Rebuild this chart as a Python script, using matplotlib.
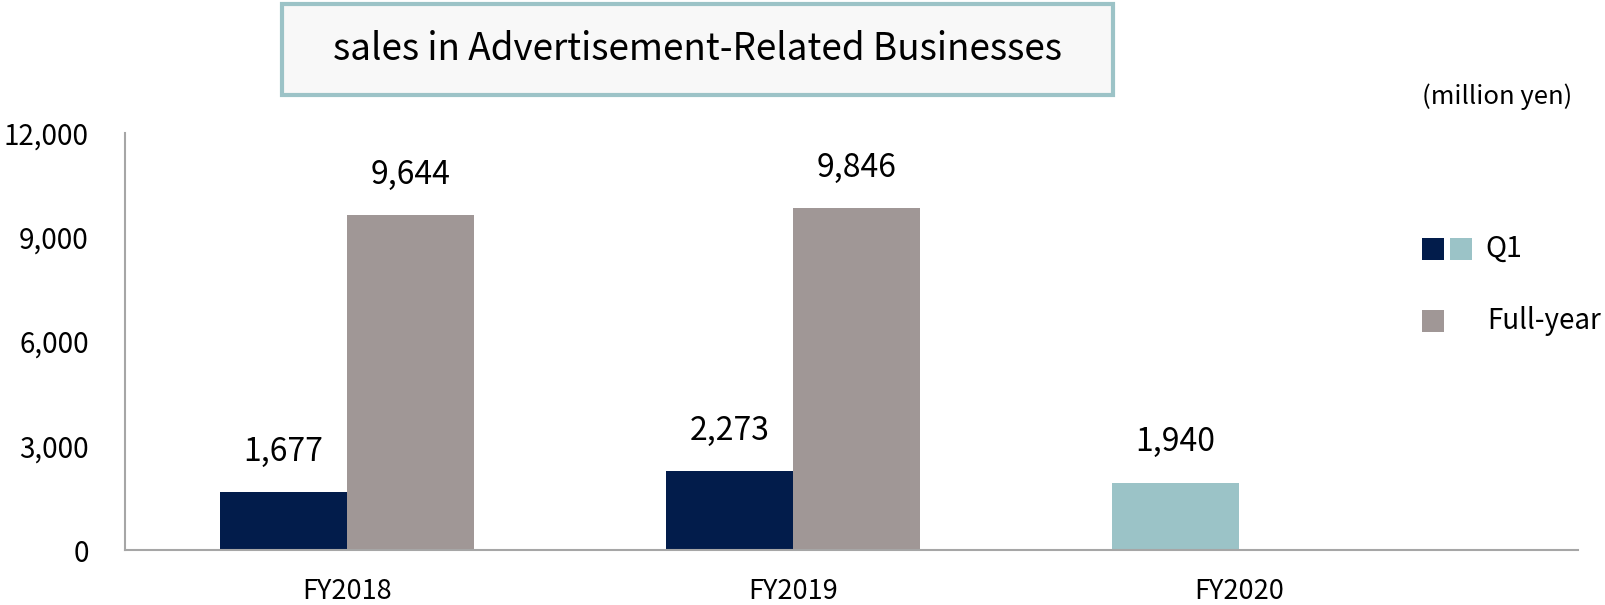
import matplotlib.pyplot as plt
from matplotlib.patches import Rectangle
from matplotlib.ticker import FuncFormatter

plt.rcParams['font.family'] = ['Noto Sans CJK JP', 'DejaVu Sans']

# --------------------------------------------------
# data (million yen)
# --------------------------------------------------
years = ["FY2018", "FY2019", "FY2020"]
q1_sales = [1677, 2273, 1940]
full_year_sales = [9644, 9846, None]
yticks = [0, 3000, 6000, 9000, 12000]

navy = "#021c4b"
teal = "#9bc3c7"
gray = "#a09796"
q1_colors = [navy, navy, teal]

fig = plt.figure(figsize=(16.06, 6.05), dpi=100)
ax = fig.add_axes([0.0778, 0.0909, 0.9048, 0.6891])

w = 0.285
x = list(range(len(years)))

for i in x:
    ax.bar(i - w / 2, q1_sales[i], width=w, color=q1_colors[i])
    ax.annotate(f"{q1_sales[i]:,}", (i - w / 2, q1_sales[i]),
                xytext=(0, 29), textcoords="offset points",
                ha="center", va="center", fontsize=23)
    if full_year_sales[i] is not None:
        ax.bar(i + w / 2, full_year_sales[i], width=w, color=gray)
        ax.annotate(f"{full_year_sales[i]:,}", (i + w / 2, full_year_sales[i]),
                    xytext=(0, 29), textcoords="offset points",
                    ha="center", va="center", fontsize=23)

ax.set_xlim(-0.498, 2.76)
ax.set_ylim(0, 12000)
ax.set_yticks(yticks)
ax.yaxis.set_major_formatter(FuncFormatter(lambda v, p: f"{int(v):,}"))
ax.set_xticks(x)
ax.set_xticklabels(years, fontsize=19.5)
ax.tick_params(axis="y", length=0, pad=26, labelsize=20)
ax.tick_params(axis="x", length=0, pad=20)

for s in ["top", "right"]:
    ax.spines[s].set_visible(False)
for s in ["left", "bottom"]:
    ax.spines[s].set_color("#a6a6a6")
    ax.spines[s].set_linewidth(1.5)

# --------------------------------------------------
# title box
# --------------------------------------------------
W, H = 1606, 605
box = Rectangle((282 / W, 1 - 95 / H), (1113 - 282) / W, (95 - 4) / H,
                transform=fig.transFigure, facecolor="#f8f8f8",
                edgecolor="#9cc3c7", linewidth=3)
fig.patches.append(box)
fig.text((282 + 1113) / 2 / W, 1 - 49 / H,
         "sales in Advertisement-Related Businesses",
         ha="center", va="center", fontsize=26.5)

fig.text(1572 / W, 1 - 97 / H, "(million yen)", ha="right", va="center",
         fontsize=18.5)

# --------------------------------------------------
# legend (drawn by hand)
# --------------------------------------------------
sq = 22
for x0, y0, c in [(1422, 238, navy), (1450, 238, teal), (1422, 310, gray)]:
    fig.patches.append(Rectangle((x0 / W, 1 - (y0 + sq) / H), sq / W, sq / H,
                                 transform=fig.transFigure, facecolor=c,
                                 edgecolor="none"))
fig.text(1485 / W, 1 - 249 / H, "Q1", ha="left", va="center", fontsize=20.5)
fig.text(1487 / W, 1 - 321 / H, "Full-year", ha="left", va="center",
         fontsize=20)

fig.savefig("out.png", dpi=100)
